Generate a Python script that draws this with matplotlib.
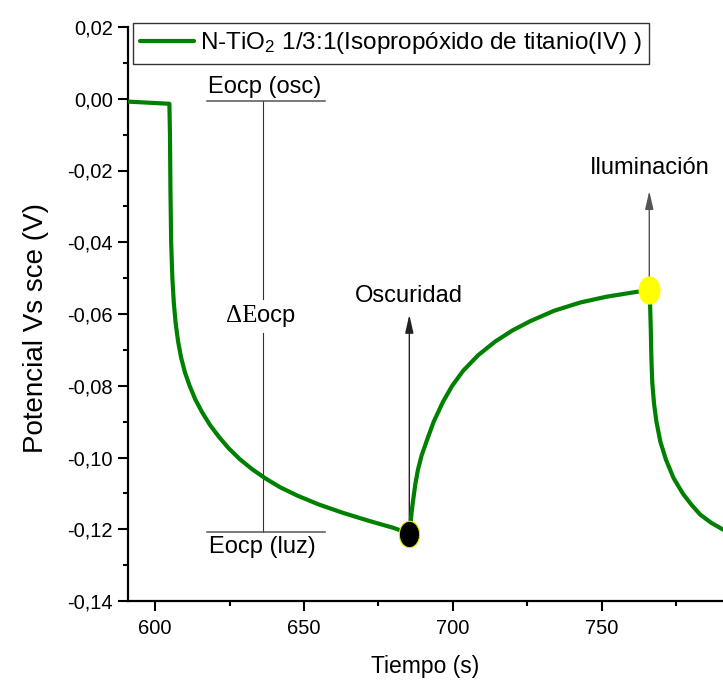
import matplotlib
matplotlib.use('Agg')
from matplotlib import pyplot as plt
from matplotlib.path import Path
from matplotlib.ticker import FuncFormatter, MultipleLocator
import numpy as np

# potential vs time
tiempo = [590.9, 604.8, 605.0, 605.15, 605.4, 605.8, 606.3, 606.9, 607.7, 608.7,
          610.0, 611.6, 613.5, 615.8, 618.5, 621.5, 624.8, 628.5, 632.5, 637.0,
          642.0, 648.0, 655.0, 663.0, 672.0, 680.0, 685.4,
          685.8, 686.2, 686.7, 687.4, 688.3, 689.5, 691.4, 693.6, 696.7, 699.8,
          703.5, 708.5, 714.2, 720.0, 726.0, 734.0, 742.8, 751.5, 761.2, 766.0,
          766.3, 766.5, 766.7, 767.0, 767.6, 768.4, 769.7, 771.6, 774.2, 777.4,
          780.3, 783.1, 786.8, 790.8, 794.0]
potencial = [-0.0008, -0.0014, -0.0100, -0.0250, -0.0400, -0.0500, -0.0570, -0.0625, -0.0675, -0.0720,
             -0.0762, -0.0800, -0.0838, -0.0874, -0.0910, -0.0943, -0.0975, -0.1005, -0.1032, -0.1058,
             -0.1083, -0.1107, -0.1131, -0.1154, -0.1177, -0.1196, -0.1212,
             -0.1185, -0.1150, -0.1118, -0.1075, -0.1034, -0.0995, -0.0950, -0.0900, -0.0845, -0.0800,
             -0.0758, -0.0715, -0.0677, -0.0646, -0.0620, -0.0591, -0.0568, -0.0552, -0.0539, -0.0534,
             -0.0580, -0.0640, -0.0720, -0.0790, -0.0850, -0.0900, -0.0955, -0.1006, -0.1058, -0.1102,
             -0.1133, -0.1159, -0.1182, -0.1201, -0.1213]

oscuridad = (685.4, -0.1212)
iluminacion = (766.0, -0.0534)

eocp_x = 636.4
eocp_osc = -0.0007
eocp_luz = -0.1208
eocp_ancho = (617.6, 657.0)
hueco = (-0.0558, -0.0652)   # gap in the guide behind the "ΔEocp" text

xticks = [600, 650, 700, 750]
yticks = [-0.14, -0.12, -0.10, -0.08, -0.06, -0.04, -0.02, 0.0, 0.02]

leyenda = r'N-TiO$_2$ 1/3:1(Isopropóxido de titanio(IV) )'

sans = ['Liberation Sans', 'DejaVu Sans']
plt.rcParams['font.family'] = sans
plt.rcParams['mathtext.fontset'] = 'custom'
plt.rcParams['mathtext.rm'] = 'Liberation Sans'
plt.rcParams['mathtext.it'] = 'Liberation Sans'

W, H = 723, 688
fig = plt.figure(figsize=(W / 100, H / 100), dpi=100)
ax = fig.add_axes([128 / W, 1 - 601 / H, (W - 128) / W, (601 - 27) / H])
ax.set_xlim(590.9, 590.9 + (W - 128) / 2.977)
ax.set_ylim(-0.14, 0.02)

for s in ['top', 'right']:
    ax.spines[s].set_visible(False)
for s in ['left', 'bottom']:
    ax.spines[s].set_linewidth(1.6)

ax.set_xticks(xticks)
ax.set_yticks(yticks)
ax.xaxis.set_minor_locator(MultipleLocator(25))
ax.yaxis.set_minor_locator(MultipleLocator(0.01))
ax.yaxis.set_major_formatter(FuncFormatter(lambda v, p: f'{v:.2f}'.replace('.', ',')))
ax.tick_params(which='major', length=7, width=1.5, direction='out', labelsize=14.5)
ax.tick_params(which='minor', length=3.5, width=1.5, direction='out')
ax.tick_params(axis='x', which='major', pad=6)
ax.tick_params(axis='y', which='major', pad=4)

ax.set_xlabel('Tiempo (s)', fontsize=16.5, labelpad=12)
ax.set_ylabel('Potencial Vs sce (V)', fontsize=20)
ax.yaxis.set_label_coords(-0.132, 0.476)

linea, = ax.plot(tiempo, potencial, color='#008000', lw=3, solid_joinstyle='round',
                 solid_capstyle='round', zorder=3)

# circle markers squeezed like the reference
circ = Path.unit_circle()
elipse = Path(circ.vertices * np.array([0.77, 1.0]), circ.codes)

# arrows
ax.annotate('', xy=(oscuridad[0], -0.0602), xytext=oscuridad,
            arrowprops=dict(arrowstyle='-|>,head_length=1.1,head_width=0.25', color='#222222',
                            lw=1, mutation_scale=10, shrinkA=0, shrinkB=0), zorder=2)
ax.annotate('', xy=(iluminacion[0], -0.0257), xytext=iluminacion,
            arrowprops=dict(arrowstyle='-|>,head_length=1.1,head_width=0.25', color='#555555',
                            lw=1, mutation_scale=10, shrinkA=0, shrinkB=0), zorder=2)

ax.plot(*oscuridad, marker=elipse, ms=19, mfc='black', mec='#e8e800', mew=0.8, zorder=5)
ax.plot(*iluminacion, marker=elipse, ms=19.5, mfc='#ffff00', mec='#ffff00', mew=0.8, zorder=5)

ax.text(oscuridad[0] - 0.3, -0.0551, 'Oscuridad', fontsize=17, ha='center', va='center')
ax.text(iluminacion[0], -0.0193, 'Iluminación', fontsize=17, ha='center', va='center')

# Eocp guides
ax.plot([eocp_x, eocp_x], [eocp_osc, hueco[0]], color='#333333', lw=0.8, zorder=2)
ax.plot([eocp_x, eocp_x], [hueco[1], eocp_luz], color='#333333', lw=0.8, zorder=2)
ax.plot(eocp_ancho, [eocp_osc, eocp_osc], color='#555555', lw=1.1, zorder=2)
ax.plot(eocp_ancho, [eocp_luz, eocp_luz], color='#555555', lw=1.1, zorder=2)
ax.text(eocp_x + 0.3, eocp_osc + 0.0008, 'Eocp (osc)', fontsize=17, ha='center', va='bottom')
ax.text(eocp_x - 0.3, eocp_luz - 0.0012, 'Eocp (luz)', fontsize=17, ha='center', va='top')
ax.text(634.4, -0.0605, 'ΔE', family=['Liberation Serif', 'DejaVu Serif'], fontsize=18,
        ha='right', va='center')
ax.text(634.2, -0.0605, 'ocp', fontsize=17, ha='left', va='center')

leg = ax.legend([linea], [leyenda], loc='upper left', bbox_to_anchor=(133 / W, 1 - 23 / H),
                bbox_transform=fig.transFigure, borderaxespad=0, fontsize=17.5,
                handlelength=2.2, handletextpad=0.25, borderpad=0.3, fancybox=False,
                framealpha=1)
leg.get_frame().set_edgecolor('#333333')
leg.get_frame().set_linewidth(1)

fig.savefig('out.png', dpi=100)
